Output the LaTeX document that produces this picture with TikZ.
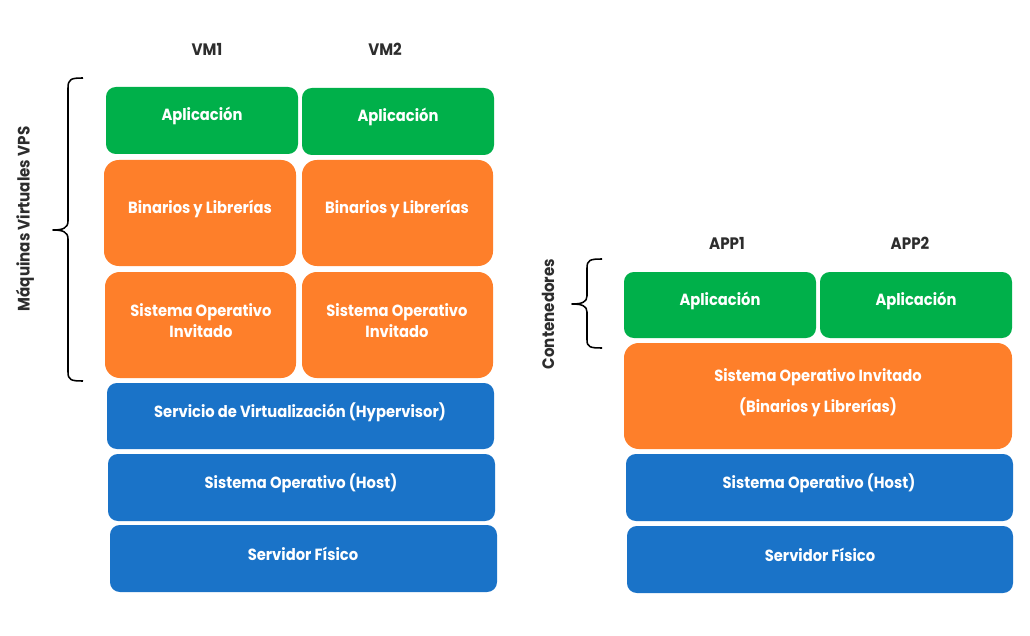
\documentclass[tikz,border=0pt]{standalone}
\usepackage{fontspec}
\setmainfont[FakeStretch=0.91]{Poppins}
\usepackage{xcolor}

\definecolor{appgreen}{RGB}{0,176,74}
\definecolor{osorange}{RGB}{254,127,42}
\definecolor{hwblue}{RGB}{26,115,200}
\definecolor{headgray}{RGB}{45,45,45}

\begin{document}
\begin{tikzpicture}[x=0.025cm, y=-0.025cm]
        \tikzset{layerG/.style={fill=appgreen, rounded corners=7pt}}
        \tikzset{layerO/.style={fill=osorange, rounded corners=10.5pt}}
        \tikzset{layerB/.style={fill=hwblue, rounded corners=7pt}}
        \tikzset{txt/.style={text=white, font=\fontsize{11.5}{15}\selectfont\bfseries, align=center, inner sep=0pt}}
        \tikzset{head/.style={text=headgray, font=\fontsize{11.8}{15}\selectfont\bfseries, inner sep=0pt}}
        \tikzset{bracket/.style={line width=1.1pt, line join=round}}

        \useasboundingbox (0,0) rectangle (1030,636);

        % maquinas virtuales
        \fill[layerG] (106,87) rectangle (298,154);
        \fill[layerG] (302,88) rectangle (494,155);
        \fill[layerO] (104,160) rectangle (296,266);
        \fill[layerO] (302,160) rectangle (493,266);
        \fill[layerO] (105,272) rectangle (296,378);
        \fill[layerO] (302,272) rectangle (493,378);
        \fill[layerB] (107,383) rectangle (494,449);
        \fill[layerB] (108,454) rectangle (495,521);
        \fill[layerB] (110,525) rectangle (497,592);

        \node[head] (vm1) at (207,49) {VM1};
        \node[head] (vm2) at (385,49) {VM2};

        \node[txt] (appA) at (202,116) {Aplicación};
        \node[txt] (appB) at (398,117) {Aplicación};
        \node[txt] (binA) at (200,209) {Binarios y Librerías};
        \node[txt] (binB) at (397,209) {Binarios y Librerías};
        \node[txt] (soA) at (201,320.5) {Sistema Operativo\\Invitado};
        \node[txt] (soB) at (397,320.5) {Sistema Operativo\\Invitado};
        \node[txt] (hyp) at (300,412) {Servicio de Virtualización (Hypervisor)};
        \node[txt] (hostL) at (301,483) {Sistema Operativo (Host)};
        \node[txt] (srvL) at (303,554) {Servidor Físico};

        \draw[bracket] (83,78) .. controls (71,78) and (68,79) .. (68,88) -- (68,221)
            .. controls (68,228) and (63,230) .. (53,230)
            .. controls (63,230) and (68,232) .. (68,239) -- (68,372)
            .. controls (68,380) and (71,381) .. (83,381);
        \node[head, rotate=90] (vps) at (25,219) {Máquinas Virtuales VPS};

        % contenedores
        \fill[layerG] (624,272) rectangle (816,338);
        \fill[layerG] (820,272) rectangle (1012,338);
        \fill[layerO] (624,343) rectangle (1012,449);
        \fill[layerB] (626,454) rectangle (1013,521);
        \fill[layerB] (627,526) rectangle (1013,593);

        \node[head] (app1) at (727,243) {APP1};
        \node[head] (app2) at (910,243) {APP2};

        \node[txt] (appC) at (720,301) {Aplicación};
        \node[txt] (appD) at (916,301) {Aplicación};
        \node[txt] (soC) at (818,392.5) {Sistema Operativo Invitado\\[7pt](Binarios y Librerías)};
        \node[txt] (hostR) at (819,483) {Sistema Operativo (Host)};
        \node[txt] (srvR) at (820,555) {Servidor Físico};

        \draw[bracket] (602,259) .. controls (590,259) and (587,260) .. (587,268) -- (587,296)
            .. controls (587,302) and (582,304) .. (572,304)
            .. controls (582,304) and (587,306) .. (587,312) -- (587,340)
            .. controls (587,347) and (590,348) .. (602,348);
        \node[head, rotate=90] (cont) at (548,314) {Contenedores};

    \end{tikzpicture}
\end{document}
